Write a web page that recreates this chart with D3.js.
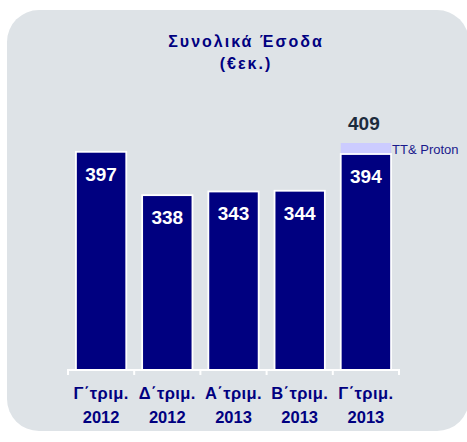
<!DOCTYPE html>
<html>
<head>
<meta charset="utf-8">
<script src="https://cdn.jsdelivr.net/npm/d3@7"></script>
<style>
  body { margin: 0; background: #fff; }
  text { font-family: "Liberation Sans", Arial, sans-serif; }
</style>
</head>
<body>
<div id="chart"></div>
<script>
var quarters = ["Γ΄τριμ.", "Δ΄τριμ.", "Α΄τριμ.", "Β΄τριμ.", "Γ΄τριμ."];
var years = ["2012", "2012", "2013", "2013", "2013"];
var revenue = [397, 338, 343, 344, 394];
var extra = [0, 0, 0, 0, 15]; // TT & Proton
var totalLabel = 409;

var width = 467, height = 442;
var svg = d3.select("#chart").append("svg")
  .attr("width", width).attr("height", height);

// panel
svg.append("path")
  .attr("fill", "#dee3e7")
  .attr("d", (function () {
    var x0 = 7, y0 = 10, x1 = 469, y1 = 431, r = 32;
    return "M" + (x0 + r) + "," + y0 + "H" + (x1 - r) +
      "A" + r + "," + r + " 0 0 1 " + x1 + "," + (y0 + r) +
      "V" + (y1 - r) + "A" + r + "," + r + " 0 0 1 " + (x1 - r) + "," + y1 +
      "H" + (x0 + r) + "A" + r + "," + r + " 0 0 1 " + x0 + "," + (y1 - r) +
      "V" + (y0 + r) + "A" + r + "," + r + " 0 0 1 " + (x0 + r) + "," + y0 + "Z";
  })());

svg.append("text").attr("x", 246).attr("y", 47)
  .attr("text-anchor", "middle").attr("fill", "#000080")
  .style("font-size", "16px").style("font-weight", "bold").style("letter-spacing", "2px")
  .text("Συνολικά Έσοδα");
svg.append("text").attr("x", 246).attr("y", 69)
  .attr("text-anchor", "middle").attr("fill", "#000080")
  .style("font-size", "16px").style("font-weight", "bold").style("letter-spacing", "2px")
  .text("(€εκ.)");

var idx = d3.range(revenue.length);
var x = d3.scaleBand().domain(idx).range([68, 399]).paddingInner(0.24).paddingOuter(0.12);
var y = d3.scaleLinear().domain([100, 409]).range([370, 143]);

var g = svg.append("g");

// extra segment
g.selectAll(".extra").data(idx.filter(function (i) { return extra[i] > 0; }))
  .enter().append("rect")
  .attr("x", function (i) { return x(i); })
  .attr("width", x.bandwidth())
  .attr("y", function (i) { return y(revenue[i] + extra[i]); })
  .attr("height", function (i) { return y(revenue[i]) - y(revenue[i] + extra[i]); })
  .attr("fill", "#ccccff");

g.selectAll(".bar").data(idx).enter().append("rect")
  .attr("x", function (i) { return x(i); })
  .attr("width", x.bandwidth())
  .attr("y", function (i) { return y(revenue[i]); })
  .attr("height", function (i) { return y.range()[0] - y(revenue[i]); })
  .attr("fill", "#000080")
  .attr("stroke", "#fff").attr("stroke-width", 1.8);

g.selectAll(".val").data(idx).enter().append("text")
  .attr("x", function (i) { return x(i) + x.bandwidth() / 2; })
  .attr("y", function (i) { return y(revenue[i]) + 29; })
  .attr("text-anchor", "middle").attr("fill", "#fff")
  .style("font-size", "19px").style("font-weight", "bold")
  .text(function (i) { return revenue[i]; });

var last = revenue.length - 1;
svg.append("text")
  .attr("x", x(last) + x.bandwidth() / 2 - 2).attr("y", 130)
  .attr("text-anchor", "middle").attr("fill", "#1c2b3c")
  .style("font-size", "19px").style("font-weight", "bold")
  .text(totalLabel);
svg.append("text")
  .attr("x", x(last) + x.bandwidth() + 1)
  .attr("y", y(revenue[last] + extra[last] / 2) + 5)
  .attr("fill", "#1a1a8c").style("font-size", "13px")
  .text("TT& Proton");

// axis
var ticks = idx.map(function (i) { return x(i) - x.step() * x.paddingInner() / 2; });
ticks.push(399);
ticks[0] = 68;
svg.append("line").attr("x1", 68).attr("x2", 399).attr("y1", 370).attr("y2", 370)
  .attr("stroke", "#fff").attr("stroke-width", 2);
svg.selectAll(".tick").data(ticks).enter().append("line")
  .attr("x1", function (d) { return d; }).attr("x2", function (d) { return d; })
  .attr("y1", 369).attr("y2", 375)
  .attr("stroke", "#fff").attr("stroke-width", 2);

var labels = svg.selectAll(".cat").data(idx).enter().append("text")
  .attr("text-anchor", "middle").attr("fill", "#000080")
  .style("font-size", "16.5px").style("font-weight", "bold");
labels.append("tspan")
  .attr("x", function (i) { return x(i) + x.bandwidth() / 2; })
  .attr("y", 399).style("letter-spacing", "0.4px")
  .text(function (i) { return quarters[i]; });
labels.append("tspan")
  .attr("x", function (i) { return x(i) + x.bandwidth() / 2; })
  .attr("y", 423)
  .text(function (i) { return years[i]; });
</script>
</body>
</html>
